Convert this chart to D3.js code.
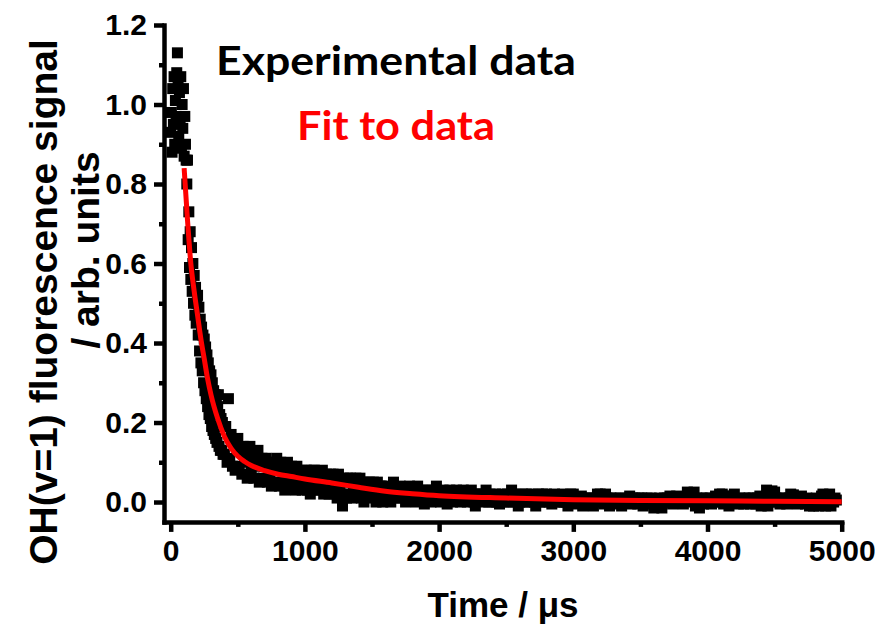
<!DOCTYPE html>
<html>
<head>
<meta charset="utf-8">
<script src="https://cdn.jsdelivr.net/npm/d3@7"></script>
<style>
  body { margin: 0; background: #fff; }
  svg { display: block; }
</style>
</head>
<body>
<script>
// OH(v=1) fluorescence decay. The fast early part (0–395 µs) was recorded every 5 µs,
// the slow tail (400 µs onwards) every 10 µs.
const earlyStartUs = 0, earlyStepUs = 5;
const earlySignal = [
  0.93, 0.98, 0.88, 1.04, 0.95, 1.07, 0.90, 1.01, 0.97, 1.08,
  1.13, 1.06, 0.92, 1.03, 0.96, 1.07, 0.89, 1.00, 0.94, 1.04,
  0.87, 0.97, 0.90, 0.86, 0.80, 0.86, 0.66, 0.73, 0.59, 0.68,
  0.56, 0.64, 0.53, 0.60, 0.50, 0.57, 0.47, 0.54, 0.45, 0.50,
  0.52, 0.42, 0.49, 0.38, 0.46, 0.35, 0.44, 0.33, 0.42, 0.30,
  0.41, 0.28, 0.39, 0.26, 0.37, 0.24, 0.35, 0.22, 0.33, 0.21,
  0.32, 0.19, 0.30, 0.18, 0.28, 0.17, 0.27, 0.16, 0.25, 0.15,
  0.24, 0.27, 0.14, 0.22, 0.13, 0.21, 0.13, 0.20, 0.12, 0.19
];
const lateStartUs = 400, lateStepUs = 10;
const lateSignal = [
  0.12, 0.19, 0.10, 0.26, 0.11, 0.17, 0.09, 0.15, 0.08, 0.14,
  0.16, 0.09, 0.13, 0.07, 0.14, 0.10, 0.12, 0.06, 0.11, 0.14,
  0.08, 0.12, 0.06, 0.11, 0.09, 0.13, 0.05, 0.10, 0.11, 0.06,
  0.09, 0.11, 0.05, 0.10, 0.06, 0.04, 0.10, 0.08, 0.05, 0.11,
  0.08, 0.04, 0.10, 0.05, 0.09, 0.03, 0.07, 0.10, 0.04, 0.06,
  0.09, 0.04, 0.07, 0.03, 0.09, 0.05, 0.04, 0.08, 0.03, 0.07,
  0.05, 0.08, 0.03, 0.07, 0.02, 0.08, 0.04, 0.08, 0.03, 0.06,
  0.07, 0.03, 0.05, 0.08, 0.02, 0.06, 0.07, 0.03, 0.02, 0.07,
  0.04, 0.07, 0.02, 0.06, 0.01, 0.07, 0.04, 0.02, -0.01, 0.06,
  0.05, 0.01, 0.06, 0.02, 0.06, 0.01, 0.04, 0.02, 0.06, 0.02,
  0.03, 0.06, 0.01, 0.05, 0.00, 0.03, 0.05, 0.01, 0.05, 0.02,
  0.02, 0.05, 0.03, 0.00, 0.05, 0.01, 0.04, 0.04, 0.00, 0.03,
  0.03, 0.01, 0.04, 0.02, 0.00, 0.03, 0.05, 0.02, 0.01, 0.03,
  0.02, 0.04, 0.01, 0.03, 0.02, 0.00, 0.03, 0.01, 0.04, 0.02,
  0.01, 0.03, 0.02, 0.00, 0.04, 0.02, 0.01, 0.03, 0.02, -0.005,
  0.02, 0.03, 0.01, 0.02, 0.00, 0.03, 0.02, 0.01, 0.04, 0.01,
  0.02, 0.00, 0.01, 0.03, 0.02, 0.01, -0.005, 0.02, 0.03, 0.01,
  0.00, 0.02, 0.01, 0.03, 0.01, 0.02, 0.00, 0.01, 0.03, 0.02,
  0.01, 0.00, 0.02, 0.01, 0.03, 0.02, 0.00, -0.01, 0.01, 0.02,
  0.02, 0.01, 0.00, 0.02, 0.01, 0.03, 0.01, 0.00, 0.02, 0.01,
  0.00, 0.01, 0.02, 0.00, 0.01, -0.005, 0.01, 0.02, 0.00, 0.01,
  0.01, 0.02, 0.00, 0.01, 0.03, 0.01, 0.00, 0.02, 0.01, -0.01,
  0.00, 0.01, 0.02, 0.01, 0.00, 0.02, 0.01, 0.00, 0.01, 0.02,
  0.01, 0.00, -0.01, 0.01, 0.02, 0.00, 0.01, 0.02, 0.00, 0.01,
  0.02, 0.01, 0.00, 0.01, -0.005, 0.01, 0.02, 0.01, 0.00, 0.01,
  0.00, 0.01, 0.02, 0.00, 0.01, 0.00, -0.01, 0.01, 0.02, 0.00,
  0.02, 0.00, 0.01, -0.005, 0.01, 0.00, 0.015, -0.01, 0.01, 0.00,
  0.01, -0.005, 0.00, 0.01, 0.005, -0.01, 0.01, 0.00, 0.02, 0.005,
  0.02, 0.00, 0.015, -0.005, 0.02, 0.01, 0.00, -0.01, 0.01, 0.00,
  0.00, 0.01, -0.005, 0.005, 0.00, 0.01, -0.01, 0.005, 0.00, 0.01,
  0.005, 0.00, 0.015, -0.005, 0.01, 0.00, 0.01, 0.005, -0.005, 0.01,
  0.00, 0.01, -0.01, 0.005, 0.00, 0.01, 0.005, -0.005, 0.01, 0.00,
  -0.015, 0.00, 0.005, -0.01, 0.01, 0.00, -0.015, 0.005, 0.01, 0.00,
  0.01, 0.00, 0.015, 0.005, -0.005, 0.01, 0.00, 0.015, 0.00, 0.01,
  0.00, 0.01, -0.005, 0.005, 0.01, 0.025, 0.01, 0.02, 0.005, 0.00,
  0.025, -0.01, 0.01, 0.00, -0.015, 0.005, 0.01, -0.005, 0.00, 0.01,
  0.005, 0.00, 0.01, -0.005, 0.005, 0.00, 0.015, 0.00, 0.01, 0.02,
  0.01, 0.02, -0.005, 0.015, 0.00, 0.01, -0.01, 0.005, 0.015, 0.00,
  0.02, 0.005, 0.00, -0.005, 0.01, 0.00, 0.005, -0.005, 0.01, 0.00,
  0.00, 0.01, -0.005, 0.005, 0.01, 0.00, -0.005, 0.01, 0.005, 0.015,
  -0.01, 0.005, 0.01, 0.00, 0.03, -0.01, 0.02, 0.005, 0.028, 0.00,
  0.025, 0.01, 0.00, 0.005, -0.005, 0.01, 0.00, 0.005, 0.01, -0.005,
  0.00, 0.01, 0.02, 0.005, 0.018, 0.00, 0.01, -0.005, 0.005, 0.01,
  0.015, 0.00, 0.005, -0.005, 0.01, 0.00, -0.01, 0.005, 0.00, -0.01,
  -0.005, 0.01, 0.00, -0.01, 0.005, 0.015, 0.02, 0.00, -0.01, 0.018,
  0.01, 0.02, -0.01, 0.005, 0.00, 0.01, 0.005
];

// Fitted decay curve (time in µs, signal in arb. units)
const fitTimes  = [100, 125, 150, 175, 200, 225, 250, 275, 300, 350, 400, 450, 500, 550, 600,
                   700, 800, 900, 1000, 1200, 1400, 1600, 1800, 2000, 2500, 3000, 3500, 4000, 4500, 5000];
const fitValues = [0.84, 0.71, 0.60, 0.53, 0.47, 0.41, 0.36, 0.31, 0.27, 0.21, 0.165, 0.135, 0.115, 0.102, 0.092,
                   0.079, 0.070, 0.064, 0.058, 0.048, 0.037, 0.027, 0.021, 0.016, 0.010, 0.006, 0.004, 0.003, 0.002, 0.001];

const xTicks      = [0, 1000, 2000, 3000, 4000, 5000];
const xMinorTicks = [500, 1500, 2500, 3500, 4500];
const yTicks      = [0.0, 0.2, 0.4, 0.6, 0.8, 1.0, 1.2];
const yMinorTicks = [0.1, 0.3, 0.5, 0.7, 0.9, 1.1];
const legendLabels = ["Experimental data", "Fit to data"];
const xTitle = "Time / \u03bcs";
const yTitleLines = ["OH(v=1) fluorescence signal", "/ arb. units"];

const W = 875, H = 625;
const x = d3.scaleLinear().domain([-50, 5000]).range([164, 841.7]);
const y = d3.scaleLinear().domain([-0.05, 1.2]).range([521.9, 25]);

const svg = d3.select("body").append("svg").attr("width", W).attr("height", H);
const tickFont = "bold 30px 'Liberation Sans', Arial, sans-serif";
const titleFont = "'Liberation Sans', Arial, sans-serif";
const markerSize = 11;

// data squares
const points = [
  ...earlySignal.map((v, i) => ({ t: earlyStartUs + i * earlyStepUs, v })),
  ...lateSignal.map((v, i) => ({ t: lateStartUs + i * lateStepUs, v }))
];
svg.append("g").selectAll("rect").data(points).join("rect")
  .attr("x", d => x(d.t) - markerSize / 2).attr("y", d => y(d.v) - markerSize / 2)
  .attr("width", markerSize).attr("height", markerSize).attr("fill", "#000");

// fitted curve
const fit = fitTimes.map((t, i) => ({ t, v: fitValues[i] }));
svg.append("path").datum(fit)
  .attr("fill", "none").attr("stroke", "#ff0000").attr("stroke-width", 5)
  .attr("d", d3.line().x(d => x(d.t)).y(d => y(d.v)).curve(d3.curveMonotoneX));

// axes
function styleAxis(g) {
  g.selectAll("path.domain").attr("stroke-width", 4.5).attr("stroke-linecap", "square");
  g.selectAll(".tick line").attr("stroke-width", 4.5);
  g.selectAll("text").style("font", tickFont).attr("fill", "#000");
}
const xAxisG = svg.append("g").attr("transform", `translate(0,${y(-0.05)})`);
xAxisG.call(d3.axisBottom(x).tickValues(xMinorTicks).tickSize(5).tickFormat(""))
  .call(g => g.select(".domain").remove());
xAxisG.append("g").call(d3.axisBottom(x).tickValues(xTicks).tickSize(10).tickSizeOuter(0)
  .tickPadding(8).tickFormat(d3.format("d"))).call(styleAxis);
xAxisG.selectAll(".tick line").attr("stroke-width", 4.5);

const yAxisG = svg.append("g").attr("transform", `translate(${x(-50)},0)`);
yAxisG.call(d3.axisLeft(y).tickValues(yMinorTicks).tickSize(5).tickFormat(""))
  .call(g => g.select(".domain").remove());
yAxisG.append("g").call(d3.axisLeft(y).tickValues(yTicks).tickSize(10).tickSizeOuter(0)
  .tickPadding(7).tickFormat(d3.format(".1f"))).call(styleAxis);
yAxisG.selectAll(".tick line").attr("stroke-width", 4.5);

// axis titles
svg.append("text").attr("x", 503).attr("y", 617).attr("text-anchor", "middle")
  .style("font", `bold 35px ${titleFont}`).text(xTitle);

svg.append("text")
  .attr("transform", "translate(57,302) rotate(-90)").attr("text-anchor", "middle")
  .style("font", `bold 39px ${titleFont}`).text(yTitleLines[0]);
svg.append("text")
  .attr("transform", "translate(99,250) rotate(-90)").attr("text-anchor", "middle")
  .style("font", `bold 39px ${titleFont}`).text(yTitleLines[1]);

// legend text
const legendColors = ["#000", "#ff0000"];
const legendWidths = [360, 198];
svg.append("g").selectAll("text").data(legendLabels).join("text")
  .attr("x", (d, i) => 396 - legendWidths[i] / 2).attr("y", (d, i) => 75 + i * 65)
  .attr("textLength", (d, i) => legendWidths[i]).attr("lengthAdjust", "spacingAndGlyphs")
  .attr("fill", (d, i) => legendColors[i])
  .style("font", "bold 40px Lato, 'Open Sans', sans-serif")
  .text(d => d);
</script>
</body>
</html>
